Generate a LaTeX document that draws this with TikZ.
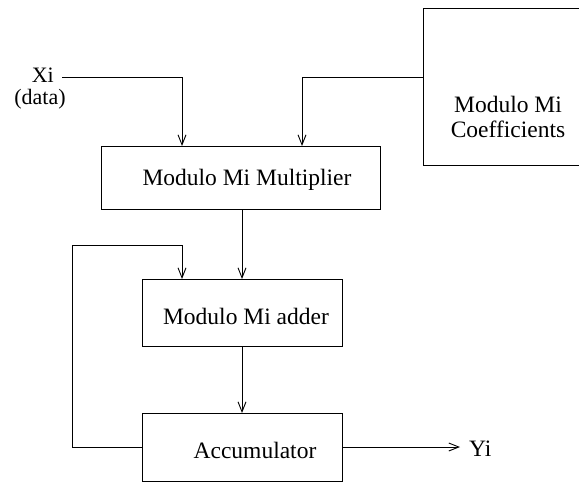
\documentclass[tikz,border=0pt]{standalone}
\usepackage{fontspec}
\setmainfont{Liberation Serif}
\usetikzlibrary{arrows.meta}
\begin{document}
\begin{tikzpicture}[x=1pt,y=-1pt,
  box/.style={draw,line width=0.9pt,inner sep=0pt},
  lbl/.style={font=\fontsize{23.5}{25}\selectfont,inner sep=0pt,align=center},
  arr/.style={line width=0.9pt,-{Straight Barb[length=10pt,width=8pt,line width=0.9pt]}},
  ln/.style={line width=0.9pt}]
\useasboundingbox (0,0) rectangle (579,487);
\fill[white] (0,0) rectangle (579,487);
% boxes
\coordinate (cTL) at (423,8);
\coordinate (cBL) at (423,165);
\draw[ln] (600,8) -- (cTL) -- (cBL) -- (600,165);
\node[lbl] (coef) at (508,117) {Modulo Mi\\Coefficients};
\node[box,minimum width=279pt,minimum height=63pt] (mult) at (240.5,177.5) {};
\node[lbl] (multt) at (247,180) {Modulo Mi Multiplier};
\node[box,minimum width=200pt,minimum height=67pt] (add) at (242,312.5) {};
\node[lbl] (addt) at (246,316) {Modulo Mi adder};
\node[box,minimum width=200pt,minimum height=68pt] (acc) at (242,447) {};
\node[lbl] (acct) at (255,450) {Accumulator};
% inputs
\node[font=\fontsize{22}{22}\selectfont,inner sep=0pt,anchor=base east] (xi) at (54,83) {Xi};
\node[font=\fontsize{22}{22}\selectfont,inner sep=0pt,anchor=base] (data) at (40,105) {(data)};
\coordinate (xs) at (62,77);
\coordinate (yend) at (460,447);
\node[lbl,anchor=west] (yi) at (469,449) {Yi};
% connectors
\draw[arr] (xs) -- (182,77) -- (182,146);
\coordinate (cl) at (423,77);
\draw[arr] (cl) -- (302,77) -- (302,146);
\draw[arr] (242,209) -- (242,279);
\draw[arr] (242,346) -- (242,413);
\draw[arr] (acc.west) -- (72,447) -- (72,245) -- (182,245) -- (182,279);
\draw[arr] (acc.east) -- (yend);
\end{tikzpicture}
\end{document}
